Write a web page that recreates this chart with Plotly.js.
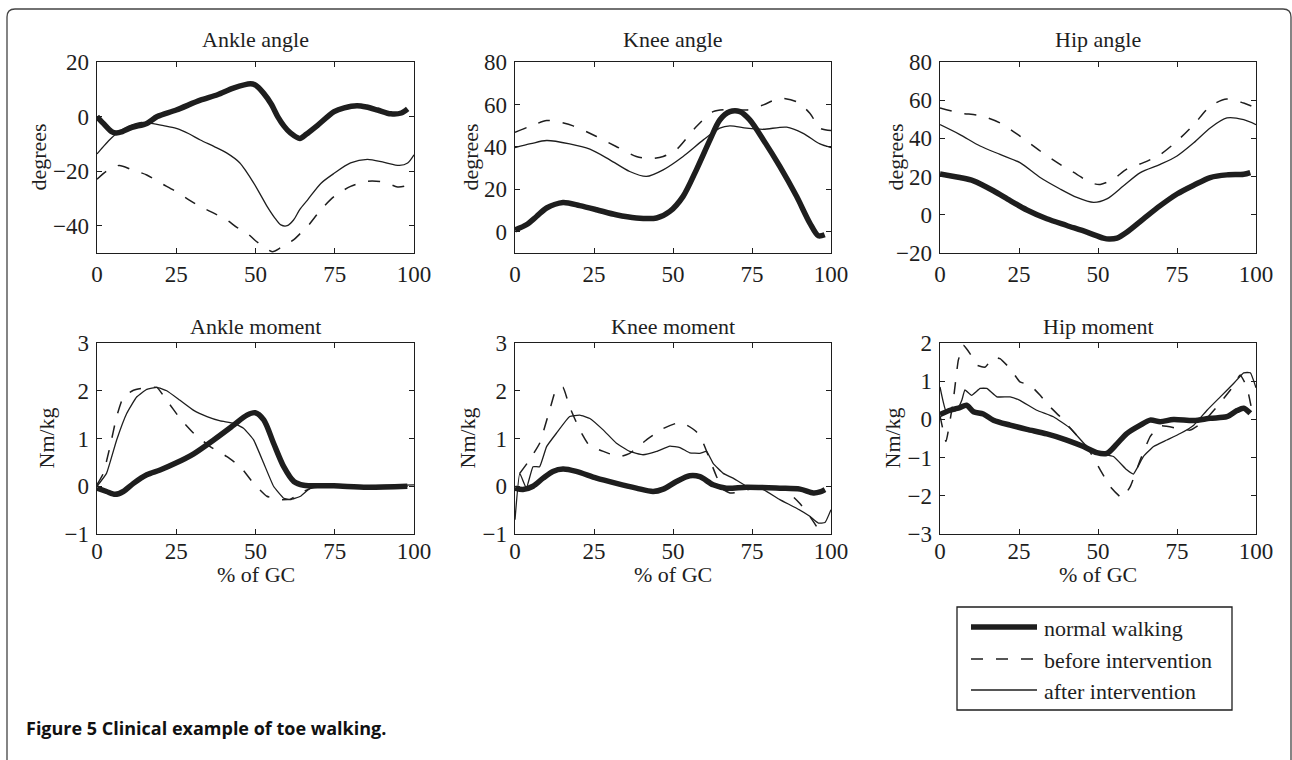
<!DOCTYPE html>
<html>
<head>
<meta charset="utf-8">
<script src="https://cdn.plot.ly/plotly-3.0.1.min.js"></script>
<style>
html,body{margin:0;padding:0;background:#fff;}
#chart{width:1292px;height:760px;}
</style>
</head>
<body>
<div id="chart"></div>
<script>
// ---------- DATA ----------
const seriesNames = ["normal walking", "before intervention", "after intervention"];
const panelTitles = ["Ankle angle", "Knee angle", "Hip angle", "Ankle moment", "Knee moment", "Hip moment"];
const yTitles = ["degrees", "degrees", "degrees", "Nm/kg", "Nm/kg", "Nm/kg"];
const xTickVals = [0, 25, 50, 75, 100];
const xLabel = "% of GC";
const captionBold = "Figure 5";
const captionText = "Clinical example of toe walking.";

// Ankle angle
const ankleAngleNormalX = [0,2,4.6,6,8,11,15.7,19,25,32.6,38,43,48.4,50,52.6,55,57,59,61,64,66,69.5,74.8,78,82,85,88.5,92.7,96,98];
const ankleAngleNormalY = [0,-2.5,-5.5,-6,-5.5,-4,-2.5,0,2.4,6,8,10.4,12,11.5,8.5,4.5,0,-3.5,-6,-8,-6.5,-3.3,1.8,3.2,4,3.5,2.4,1,1.3,2.8];
const ankleAngleBeforeX = [0,3,7,11,15.7,20,25,29,32.6,37,41,44,47.4,50,52.6,55.3,58,60,62,64,66.4,70.6,74.8,80,85.3,90.6,94.8,97,98];
const ankleAngleBeforeY = [-23,-20,-17.9,-19.5,-21.4,-24.3,-27.5,-30.5,-33,-35.5,-37.9,-40.5,-42.8,-45.5,-47.7,-49.5,-48,-46.5,-45.2,-43,-40.3,-34.2,-29.3,-25.6,-23.7,-24,-25.8,-25.5,-25];
const ankleAngleAfterX = [0,2,4,7,10,13.6,17,21,25,29,32.6,37,41,45,47,49.5,51.5,53.7,56,58,60,62,64,66.4,70.6,74.8,80,85.3,90.6,95.4,98,100];
const ankleAngleAfterY = [-13.7,-11,-8.5,-5.5,-3.5,-2.2,-2.5,-3.3,-4.3,-6.3,-8.6,-11,-13.4,-16.9,-20,-24.5,-28.5,-33,-37,-39.7,-40,-37.9,-34,-30.6,-24.5,-20.8,-17,-15.7,-16.8,-17.9,-17,-14];

// Knee angle
const kneeAngleNormalX = [0,3.6,6.8,10,15.2,20.5,25.8,32,38.4,44.8,49,53.2,57.4,61.7,64.8,68,71.2,74.3,78.6,83.8,89.1,93.3,96,98];
const kneeAngleNormalY = [0.9,3.3,7.2,11.2,13.8,12.3,10.4,8,6.5,6.5,9.6,16.7,29.2,43.3,52.7,56.6,56.6,52.7,43.3,30.8,16.7,4.1,-1.9,-1.4];
const kneeAngleBeforeX = [0,4.6,10,13,18.4,25.8,32,38.4,42.7,46.9,51,57.4,62.7,68,73.3,78.6,83.8,89.1,93.3,96.5,100];
const kneeAngleBeforeY = [46.9,49.6,52.4,52,49.9,44.9,40.2,35.5,34.4,35.5,38.6,49.6,56.6,57.7,57.4,59.8,62.9,61.3,55.9,48.8,47.7];
const kneeAngleAfterX = [0,5,10,17.3,23.7,30,36.3,41.6,46.9,53.2,59.6,64.8,68,73.3,78.6,86,91.2,96.5,100];
const kneeAngleAfterY = [39.7,41.5,43,41.4,38.9,33.9,28.4,26.1,29.2,35.5,43.3,48.8,49.9,48.8,48.3,49.3,46.4,41.4,39.7];

// Hip angle
const hipAngleNormalX = [0,6.3,10.6,16.9,22.2,27.5,33.8,40.1,46.5,51.7,53.5,56,59.1,64.4,69.7,75,80.3,85.5,90.8,96.1,98.2];
const hipAngleNormalY = [21.4,19.5,17.8,12.6,7.4,2.5,-2.1,-5.6,-9.1,-12.2,-12.7,-12.2,-9.1,-2.1,4.8,10.9,15.5,19.5,20.9,21.2,22.1];
const hipAngleBeforeX = [0,6.3,12.7,19,25.3,31.7,38,43.3,47.5,50.7,54.9,59.1,64.4,69.7,75,80.3,85.5,90.8,96.1,100];
const hipAngleBeforeY = [55.9,53.3,51.9,48.1,41.2,33.4,26.4,21.2,16.9,15.9,18.7,23.9,27.3,31.6,38.6,47.2,56.8,60.6,58.5,55.9];
const hipAngleAfterX = [0,6.3,12.7,19,25.3,31.7,38,43.3,48.6,52.8,58.1,63.4,69.7,75,80.3,85.5,90.8,96.1,100];
const hipAngleAfterY = [47.2,42,36,31.6,27.3,19.5,13.5,9.1,6.5,8.3,15.2,22.1,26.4,30.8,37.7,45.5,50.7,49.8,47.2];

// Ankle moment
const ankleMomNormalX = [0,3,5.7,8.3,11.5,15.7,19.9,24.7,30.5,36.8,43.1,47.3,49.9,52.6,55.7,58.9,62.1,65.2,74.7,85.2,97.9];
const ankleMomNormalY = [-0.04,-0.11,-0.17,-0.11,0.06,0.24,0.34,0.48,0.68,0.97,1.28,1.49,1.54,1.39,0.9,0.41,0.1,0.02,0.01,-0.02,0];
const ankleMomBeforeX = [0,2,4.1,6.2,8.3,11.5,15.7,18.9,22,26.2,30.5,35.7,41,45.2,49.4,53.6,57.9,61,65.2,68.4,75,85,98];
const ankleMomBeforeY = [0.03,0.27,0.83,1.46,1.87,2.01,2.07,2.07,1.8,1.42,1.11,0.83,0.62,0.41,0.06,-0.21,-0.28,-0.27,-0.11,-0.02,0,0,0];
const ankleMomAfterX = [0,3,6.2,9.4,12.5,15.7,18.9,22,26.2,30.5,34.7,38.9,43.1,46.3,49.4,52.6,55.7,58.9,61,64.2,67.3,74.7,100];
const ankleMomAfterY = [0,0.27,0.97,1.53,1.87,2.03,2.07,2.0,1.8,1.59,1.46,1.37,1.32,1.21,0.97,0.48,0,-0.25,-0.28,-0.21,-0.04,0,0.03];

// Knee moment
const kneeMomNormalX = [0,2.5,5.7,8.9,12,15.2,19.4,25.8,32.1,38.4,43.7,46.9,51.1,55.3,58.5,62.7,66.9,73.3,83.8,90.2,94.4,96.5,98.1];
const kneeMomNormalY = [-0.04,-0.07,0,0.17,0.31,0.36,0.31,0.17,0.06,-0.04,-0.11,-0.06,0.1,0.22,0.2,0.03,-0.04,-0.02,-0.04,-0.06,-0.14,-0.12,-0.07];
const kneeMomBeforeX = [1.5,4.6,7.8,11,13.1,15.2,17.3,20.5,23.7,26.8,30,33.2,36.3,41.6,46.9,51.1,54.3,57.4,59.6,61.7,63.8,65.9,68,70.6,75,85,90,93,96.5];
const kneeMomBeforeY = [0.27,0.55,0.9,1.6,2.05,2.07,1.66,1.18,0.83,0.76,0.68,0.62,0.69,0.97,1.21,1.32,1.28,1.14,0.9,0.55,0.2,-0.07,-0.14,-0.13,-0.05,-0.05,-0.35,-0.6,-0.95];
const kneeMomAfterX = [0,1.5,3.6,5.7,7.8,10,13.1,17.3,20.5,23.7,27.9,32.1,36.3,40.5,44.8,49,52.2,55.3,58.5,60.6,62.7,65.9,69,73.3,78.6,83.8,89.1,93.3,96,98.1,100];
const kneeMomAfterY = [-0.7,0.27,-0.04,0.41,0.41,0.83,1.11,1.46,1.49,1.42,1.18,0.9,0.73,0.66,0.73,0.84,0.81,0.7,0.69,0.73,0.48,0.27,0.17,0,-0.07,-0.28,-0.46,-0.63,-0.77,-0.76,-0.49];

// Hip moment
const hipMomNormalX = [0,3.2,6.3,8.4,10.6,13.7,16.9,22.2,27.5,33.8,40.1,45.4,49.6,52.8,56,59.1,63.4,66.5,69.7,73.9,80.3,85.5,90.8,94,96.1,98.2];
const hipMomNormalY = [0.13,0.24,0.31,0.37,0.2,0.14,-0.02,-0.15,-0.26,-0.38,-0.54,-0.71,-0.87,-0.89,-0.64,-0.37,-0.15,-0.02,-0.06,0,-0.03,0.03,0.07,0.23,0.29,0.16];
const hipMomBeforeX = [0,1.9,4.2,5.8,7.4,9.5,11.6,14.3,16.9,19,22.2,25.3,28.5,31.7,34.8,38,42.2,46.5,50.7,53.9,57.6,60.2,63.4,66.5,69.7,75,79.2,83.4,87.6,91.9,95,97.1,98.7];
const hipMomBeforeY = [0.1,-0.58,0.5,1.55,1.94,1.72,1.42,1.37,1.63,1.59,1.33,0.98,0.9,0.63,0.33,0.07,-0.32,-0.71,-1.32,-1.76,-2.06,-1.76,-1.06,-0.45,-0.17,-0.23,-0.28,-0.06,0.33,0.77,1.16,0.85,0.24];
const hipMomAfterX = [0,2,5.3,6.9,7.9,10,12.7,14.8,18,22.2,25.3,30.6,35.9,41.2,46.5,50.7,54.9,59.1,61.2,64.4,67.6,71.8,76,80.3,84.5,88.7,92.9,96.1,98.2,100];
const hipMomAfterY = [0.85,0.2,0.24,0.5,0.77,0.63,0.81,0.81,0.59,0.59,0.5,0.24,0.07,-0.23,-0.71,-0.9,-0.97,-1.32,-1.43,-0.97,-0.71,-0.54,-0.37,-0.15,0.24,0.59,0.94,1.22,1.22,0.83];

const yRanges = [[-50,20],[-10,80],[-20,80],[-1,3],[-1,3],[-3,2]];
const yDticks = [20,20,20,1,1,1];

// ---------- BUILD ----------
const W = 1292, H = 760;
const px = x => x / W;
const py = y => 1 - y / H;
const INK = "#1e1e1e";
const SERIF = "Liberation Serif, Times New Roman, serif";
const FS = 22, TFS = 23;

const panels = [
  [[ankleAngleNormalX, ankleAngleNormalY],[ankleAngleBeforeX, ankleAngleBeforeY],[ankleAngleAfterX, ankleAngleAfterY]],
  [[kneeAngleNormalX, kneeAngleNormalY],[kneeAngleBeforeX, kneeAngleBeforeY],[kneeAngleAfterX, kneeAngleAfterY]],
  [[hipAngleNormalX, hipAngleNormalY],[hipAngleBeforeX, hipAngleBeforeY],[hipAngleAfterX, hipAngleAfterY]],
  [[ankleMomNormalX, ankleMomNormalY],[ankleMomBeforeX, ankleMomBeforeY],[ankleMomAfterX, ankleMomAfterY]],
  [[kneeMomNormalX, kneeMomNormalY],[kneeMomBeforeX, kneeMomBeforeY],[kneeMomAfterX, kneeMomAfterY]],
  [[hipMomNormalX, hipMomNormalY],[hipMomBeforeX, hipMomBeforeY],[hipMomAfterX, hipMomAfterY]]
];
const styles = [
  {width: 5.5, dash: "solid"},
  {width: 1.5, dash: "12px,13px"},
  {width: 1.3, dash: "solid"}
];

const colPx = [[97,414],[515,831],[940,1256]];
const rowPx = [[62,253],[343,534]];

const data = [];
const layout = {
  width: W, height: H,
  margin: {l:0, r:0, t:0, b:0},
  paper_bgcolor: "#fff", plot_bgcolor: "#fff",
  showlegend: false,
  font: {family: SERIF, color: INK, size: FS},
  annotations: [], shapes: []
};

panels.forEach((series, i) => {
  const r = Math.floor(i / 3), c = i % 3;
  const n = i + 1;
  const xa = "x" + (n === 1 ? "" : n), ya = "y" + (n === 1 ? "" : n);
  series.forEach((s, k) => {
    data.push({
      type: "scatter", mode: "lines", x: s[0], y: s[1],
      xaxis: xa, yaxis: ya, name: seriesNames[k], hoverinfo: "skip",
      line: {color: INK, width: styles[k].width, dash: styles[k].dash,
             shape: "spline", smoothing: (i >= 3 && k > 0) ? 0.35 : 0.8}
    });
  });
  const axCommon = {
    showline: true, linecolor: INK, linewidth: 1.3, mirror: "ticks",
    ticks: "inside", ticklen: 5, tickwidth: 1, tickcolor: INK,
    showgrid: false, zeroline: false, fixedrange: true,
    tickfont: {family: SERIF, size: TFS, color: INK}
  };
  layout["xaxis" + (n === 1 ? "" : n)] = Object.assign({}, axCommon, {
    domain: [px(colPx[c][0]), px(colPx[c][1])], range: [0, 100],
    tickmode: "array", tickvals: xTickVals, anchor: ya,
    ticklabelstandoff: r === 0 ? 0 : -4
  });
  layout["yaxis" + (n === 1 ? "" : n)] = Object.assign({}, axCommon, {
    domain: [py(rowPx[r][1]), py(rowPx[r][0])], range: yRanges[i],
    dtick: yDticks[i], tick0: 0, anchor: xa, ticklabelstandoff: 2
  });
  const cx = (colPx[c][0] + colPx[c][1]) / 2;
  layout.annotations.push({
    text: panelTitles[i], xref: "paper", yref: "paper",
    x: px(cx), y: py(r === 0 ? 40 : 326), xanchor: "center", yanchor: "middle",
    showarrow: false, font: {family: SERIF, size: FS, color: INK}
  });
  const ytx = [[38,470,895],[46,467,892]][r][c];
  layout.annotations.push({
    text: yTitles[i], xref: "paper", yref: "paper", textangle: -90,
    x: px(ytx), y: py((rowPx[r][0] + rowPx[r][1]) / 2), xanchor: "center", yanchor: "middle",
    showarrow: false, font: {family: SERIF, size: FS, color: INK}
  });
  if (r === 1) {
    layout.annotations.push({
      text: xLabel, xref: "paper", yref: "paper",
      x: px(cx), y: py(574), xanchor: "center", yanchor: "middle",
      showarrow: false, font: {family: SERIF, size: FS, color: INK}
    });
  }
});

// Outer rounded frame
const fr = {l: 7, t: 9, r: 1291, b: 780, rad: 8};
layout.shapes.push({
  type: "path", xref: "paper", yref: "paper", layer: "below",
  path: `M ${px(fr.l)},${py(fr.b)} L ${px(fr.l)},${py(fr.t + fr.rad)} Q ${px(fr.l)},${py(fr.t)} ${px(fr.l + fr.rad)},${py(fr.t)} L ${px(fr.r - fr.rad)},${py(fr.t)} Q ${px(fr.r)},${py(fr.t)} ${px(fr.r)},${py(fr.t + fr.rad)} L ${px(fr.r)},${py(fr.b)}`,
  line: {color: "#444", width: 1.3}
});

// Legend box
layout.shapes.push({
  type: "rect", xref: "paper", yref: "paper",
  x0: px(957), x1: px(1232), y0: py(710), y1: py(607),
  line: {color: INK, width: 1.3}, fillcolor: "rgba(0,0,0,0)"
});
const legRows = [627, 659, 690];
seriesNames.forEach((nm, k) => {
  layout.shapes.push({
    type: "line", xref: "paper", yref: "paper",
    x0: px(971), x1: px(1037), y0: py(legRows[k]), y1: py(legRows[k]),
    line: {color: INK, width: styles[k].width, dash: styles[k].dash}
  });
  layout.annotations.push({
    text: nm, xref: "paper", yref: "paper", x: px(1042), y: py(legRows[k] + 1),
    xanchor: "left", yanchor: "middle", showarrow: false,
    font: {family: SERIF, size: FS, color: INK}
  });
});

// Caption
layout.annotations.push({
  text: "<b>" + captionBold + " " + captionText + "</b>",
  xref: "paper", yref: "paper", x: px(24), y: py(728),
  xanchor: "left", yanchor: "middle", showarrow: false,
  font: {family: "Open Sans, Noto Sans, sans-serif", size: 18, color: "#111"}
});

Plotly.newPlot("chart", data, layout, {staticPlot: true, displayModeBar: false});
</script>
</body>
</html>
